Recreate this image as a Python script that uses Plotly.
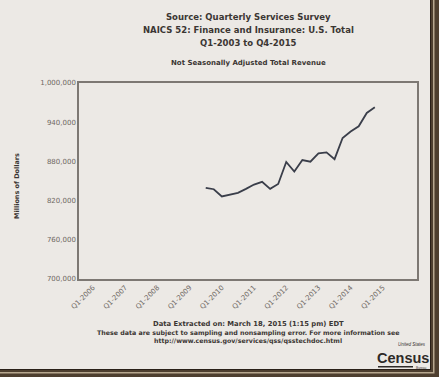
import plotly.graph_objects as go

# ---- data ----
quarters = ["Q3-2009", "Q4-2009",
            "Q1-2010", "Q2-2010", "Q3-2010", "Q4-2010",
            "Q1-2011", "Q2-2011", "Q3-2011", "Q4-2011",
            "Q1-2012", "Q2-2012", "Q3-2012", "Q4-2012",
            "Q1-2013", "Q2-2013", "Q3-2013", "Q4-2013",
            "Q1-2014", "Q2-2014", "Q3-2014", "Q4-2014"]
revenue = [839500, 837400,
           826300, 828900, 831900, 838000,
           844600, 848800, 838000, 845400,
           879100, 864500, 882100, 879500,
           892400, 893900, 883400, 915800,
           925800, 933700, 954100, 962800]
x_tick_years = [2006, 2007, 2008, 2009, 2010, 2011, 2012, 2013, 2014, 2015]
x_tick_labels = ["Q1-%d" % y for y in x_tick_years]
y_tick_vals = [700000, 760000, 820000, 880000, 940000, 1000000]
y_tick_labels = ["700,000", "760,000", "820,000", "880,000", "940,000", "1,000,000"]


def q_to_num(q):
    qn, yr = q.split("-")
    return int(yr) + (int(qn[1]) - 1) / 4.0


x_vals = [q_to_num(q) for q in quarters]

W, H = 439, 377
L, R, T, B = 79, 417, 83, 279
BG = "#ece9e5"
DARK = "#3b3633"
GRAY = "#6e6863"


def px(x):
    return (x - L) / (R - L)


def py(y):
    return (B - y) / (B - T)


def note(fig, text, x, y, size, family="DejaVu Sans", color=DARK, xanchor="center", angle=0):
    fig.add_annotation(text=text, x=px(x), y=py(y), xref="paper", yref="paper",
                       xanchor=xanchor, yanchor="middle", textangle=angle, showarrow=False,
                       font=dict(size=size, color=color, family=family))


def rect(fig, x0, x1, y0, y1, color):
    fig.add_shape(type="rect", xref="paper", yref="paper", x0=px(x0), x1=px(x1),
                  y0=py(y1), y1=py(y0), fillcolor=color, line=dict(width=0))


fig = go.Figure()
fig.add_trace(go.Scatter(x=x_vals, y=revenue, mode="lines",
                         line=dict(color="#3a3e4a", width=1.8), showlegend=False,
                         hoverinfo="skip"))

fig.update_layout(
    width=W, height=H,
    margin=dict(l=L, r=W - R, t=T, b=H - B, pad=0),
    paper_bgcolor=BG, plot_bgcolor=BG,
    font=dict(family="DejaVu Sans", size=7, color=GRAY),
    xaxis=dict(range=[2005.565, 2016.06], tickvals=x_tick_years, ticktext=x_tick_labels,
               tickangle=-45, showgrid=False, zeroline=False, showline=True,
               linecolor="#7d7873", linewidth=1.5, mirror=True, ticks="",
               tickfont=dict(size=7, color=GRAY)),
    yaxis=dict(range=[700000, 1000000], tickvals=y_tick_vals, ticktext=y_tick_labels,
               showgrid=False, zeroline=False, showline=True,
               linecolor="#7d7873", linewidth=1.5, mirror=True, ticks="",
               ticklen=0, tickfont=dict(size=7, color=GRAY)),
)

note(fig, "<b>Source: Quarterly Services Survey</b>", 248, 17, 8.5)
note(fig, "<b>NAICS 52: Finance and Insurance: U.S. Total</b>", 248, 30, 8.5)
note(fig, "<b>Q1-2003 to Q4-2015</b>", 248, 43, 8.5)
note(fig, "<b>Not Seasonally Adjusted Total Revenue</b>", 248, 63, 7)
note(fig, "<b>Millions of Dollars</b>", 17, 186, 6.5, angle=-90)
note(fig, "<b>Data Extracted on: March 18, 2015 (1:15 pm) EDT</b>", 248, 324, 6.8)
note(fig, "<b>These data are subject to sampling and nonsampling error. For more information see</b>",
     248, 333, 6.3)
note(fig, "<b>http://www.census.gov/services/qss/qsstechdoc.html</b>", 248, 341, 6.3)

# photo frame (right and bottom dark border)
rect(fig, 430, 440, -1, 378, "#4e3f2f")
rect(fig, -1, 440, 369, 378, "#4e3f2f")
rect(fig, 433, 434.5, -1, 372, "#b7a88f")
rect(fig, -1, 434.5, 372, 373.5, "#b7a88f")
rect(fig, 430, 431, -1, 370, "#2a2018")
rect(fig, -1, 431, 369, 370, "#2a2018")

# Census logo
note(fig, "<i>United States</i>", 428, 344.5, 4.5, family="Liberation Sans", xanchor="right")
note(fig, "<b>Census</b>", 403, 357.5, 14.5, family="Liberation Sans Narrow, Liberation Sans", color="#2e2a28")
rect(fig, 378, 413, 366, 367.5, "#2e2a28")
note(fig, "Bureau", 421, 367.8, 3.2, family="Liberation Sans")

fig.write_html("out.html", config={"displayModeBar": False},
               post_script="document.body.style.margin='0';document.body.style.overflow='hidden';")
